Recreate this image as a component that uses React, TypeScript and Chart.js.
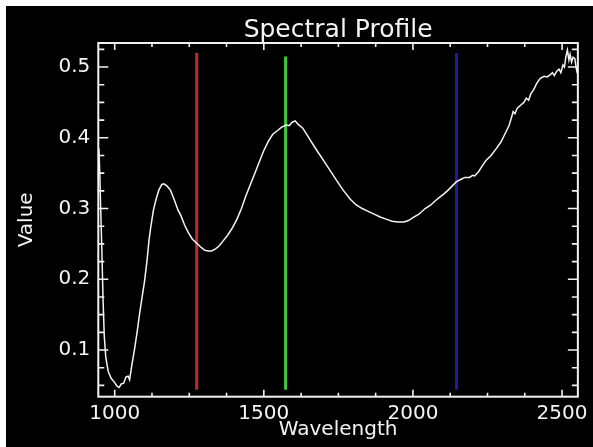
import React, { useEffect, useRef } from "react";
import { Chart, registerables } from "chart.js";

Chart.register(...registerables);

// Spectrum samples (wavelength, value)
const wavelengths = [
  947, 950, 953, 957, 961, 965, 970, 978, 988, 998, 1008, 1015, 1022, 1030, 1038, 1045, 1050, 1058,
  1066, 1075, 1083, 1092, 1100, 1108, 1115, 1121, 1130, 1138, 1148, 1158, 1165, 1175, 1187, 1200,
  1212, 1222, 1235, 1247, 1260, 1275, 1290, 1302, 1314, 1325, 1338, 1350, 1365, 1380, 1395, 1410,
  1425, 1440, 1455, 1470, 1485, 1500, 1515, 1530, 1545, 1560, 1575, 1585, 1595, 1605, 1615, 1630,
  1645, 1660, 1678, 1700, 1722, 1745, 1766, 1790, 1810, 1830, 1850, 1870, 1890, 1910, 1930, 1950,
  1970, 1985, 2000, 2020, 2041, 2060, 2075, 2090, 2105, 2118, 2132, 2146, 2160, 2174, 2190, 2200,
  2207, 2220, 2232, 2245, 2262, 2280, 2295, 2308, 2322, 2330, 2336, 2342, 2350, 2361, 2372, 2380,
  2388, 2395, 2405, 2415, 2427, 2440, 2450, 2460, 2468, 2474, 2482, 2490, 2496, 2503, 2508, 2513,
  2518, 2523, 2527, 2532, 2537, 2543, 2547, 2551,
];
const values = [
  0.385, 0.35, 0.3, 0.24, 0.17, 0.12, 0.09, 0.07, 0.06, 0.055, 0.049, 0.047, 0.052, 0.053, 0.062, 0.063, 0.058, 0.08,
  0.1, 0.125, 0.15, 0.175, 0.197, 0.225, 0.255, 0.274, 0.298, 0.312, 0.326, 0.334, 0.335, 0.332, 0.326, 0.312,
  0.298, 0.29, 0.276, 0.266, 0.257, 0.251, 0.245, 0.241, 0.24, 0.24, 0.243, 0.247, 0.255, 0.263, 0.273, 0.285,
  0.3, 0.318, 0.334, 0.35, 0.366, 0.382, 0.395, 0.405, 0.41, 0.415, 0.418, 0.417, 0.422, 0.424, 0.419, 0.414,
  0.404, 0.394, 0.382, 0.368, 0.354, 0.339, 0.326, 0.313, 0.305, 0.3, 0.296, 0.292, 0.288, 0.285, 0.282, 0.281,
  0.281, 0.283, 0.287, 0.292, 0.3, 0.305, 0.311, 0.316, 0.321, 0.326, 0.332, 0.338, 0.341, 0.344, 0.344, 0.347,
  0.346, 0.352, 0.36, 0.368, 0.375, 0.385, 0.394, 0.405, 0.417, 0.428, 0.437, 0.434, 0.442, 0.446, 0.45, 0.456,
  0.453, 0.462, 0.468, 0.477, 0.484, 0.487, 0.486, 0.489, 0.492, 0.488, 0.494, 0.497, 0.492, 0.503, 0.5, 0.515,
  0.524, 0.51, 0.518, 0.507, 0.514, 0.512, 0.5, 0.491,
];

// Band marker lines
const markerWavelengths = [1275, 1573, 2146];
const markerColors = ["#c02a35", "#3ec83e", "#1c1ca8"];
const markerTops = [0.52, 0.515, 0.52];
const markerBottom = 0.044;

// Axes
const xRange = [945, 2553];
const yRange = [0.034, 0.534];
const xMajorTicks = [1000, 1500, 2000, 2500];
const xMinorTicks = [1125, 1250, 1375, 1625, 1750, 1875, 2125, 2250, 2375];
const yMajorTicks = [0.1, 0.2, 0.3, 0.4, 0.5];
const yMinorTicks = [0.05, 0.075, 0.125, 0.15, 0.175, 0.225, 0.25, 0.275, 0.325, 0.35, 0.375, 0.425, 0.45, 0.475, 0.525];

const titleText = "Spectral Profile";
const xTitle = "Wavelength";
const yTitle = "Value";

const FONT = "'DejaVu Sans', sans-serif";

const boxPlugin = {
  id: "idlBox",
  afterDatasetsDraw(chart: any) {
    const { ctx, chartArea, scales } = chart;
    const { left, right, top, bottom } = chartArea;
    const xs = scales.x;
    const ys = scales.y;
    ctx.save();
    ctx.strokeStyle = "#f2f2f2";
    ctx.lineWidth = 2;
    ctx.strokeRect(left, top, right - left, bottom - top);
    ctx.lineWidth = 1.6;
    const vline = (px: number, len: number) => {
      ctx.beginPath();
      ctx.moveTo(px, bottom);
      ctx.lineTo(px, bottom - len);
      ctx.moveTo(px, top);
      ctx.lineTo(px, top + len);
      ctx.stroke();
    };
    const hline = (py: number, len: number) => {
      ctx.beginPath();
      ctx.moveTo(left, py);
      ctx.lineTo(left + len, py);
      ctx.moveTo(right, py);
      ctx.lineTo(right - len, py);
      ctx.stroke();
    };
    xMajorTicks.forEach((v) => vline(xs.getPixelForValue(v), 7));
    xMinorTicks.forEach((v) => vline(xs.getPixelForValue(v), 4));
    yMajorTicks.forEach((v) => hline(ys.getPixelForValue(v), 10));
    yMinorTicks.forEach((v) => hline(ys.getPixelForValue(v), 6));
    ctx.restore();
  },
};

export default function App() {
  const ref = useRef<HTMLCanvasElement | null>(null);

  useEffect(() => {
    document.body.style.margin = "0";
    const canvas = ref.current;
    if (!canvas) return;
    const datasets: any[] = [
      {
        data: wavelengths.map((w, i) => ({ x: w, y: values[i] })),
        borderColor: "#f4f4f4",
        borderWidth: 1.5,
        pointRadius: 0,
        tension: 0,
        order: 0,
      },
      ...markerWavelengths.map((w, i) => ({
        data: [
          { x: w, y: markerBottom },
          { x: w, y: markerTops[i] },
        ],
        borderColor: markerColors[i],
        borderWidth: 3,
        pointRadius: 0,
        order: 1,
      })),
    ];
    const chart = new Chart(canvas, {
      type: "line",
      data: { datasets },
      options: {
        animation: false,
        responsive: false,
        devicePixelRatio: 1,
        layout: { padding: { left: 0, right: 8, top: 0, bottom: 0 } },
        plugins: {
          legend: { display: false },
          tooltip: { enabled: false },
          title: {
            display: true,
            text: titleText,
            color: "#f4f4f4",
            fullSize: false,
            font: { family: FONT, size: 25, weight: "normal", lineHeight: 1 },
            padding: { top: 11.5, bottom: 0.5 },
          },
        },
        scales: {
          x: {
            type: "linear",
            min: xRange[0],
            max: xRange[1],
            grid: { display: false, drawTicks: false },
            border: { display: false },
            afterBuildTicks: (s: any) => {
              s.ticks = xMajorTicks.map((v) => ({ value: v }));
            },
            afterFit: (s: any) => {
              s.height = 50.3;
            },
            ticks: {
              color: "#f4f4f4",
              font: { family: FONT, size: 20 },
              padding: 5,
              maxRotation: 0,
              autoSkip: false,
              callback: (v: any) => String(v),
            },
            title: {
              display: true,
              text: xTitle,
              color: "#f4f4f4",
              font: { family: FONT, size: 20, lineHeight: 1.2 },
              padding: { top: 0, bottom: 5 },
            },
          },
          y: {
            type: "linear",
            min: yRange[0],
            max: yRange[1],
            grid: { display: false, drawTicks: false },
            border: { display: false },
            afterBuildTicks: (s: any) => {
              s.ticks = yMajorTicks.map((v) => ({ value: v }));
            },
            afterFit: (s: any) => {
              s.width = 92.3;
            },
            ticks: {
              color: "#f4f4f4",
              font: { family: FONT, size: 20 },
              padding: 8,
              callback: (v: any) => String(Math.round(v * 10) / 10),
            },
            title: {
              display: true,
              text: yTitle,
              color: "#f4f4f4",
              font: { family: FONT, size: 20, lineHeight: 1.2 },
              padding: { top: 8.5, bottom: 0 },
            },
          },
        },
      },
      plugins: [boxPlugin],
    } as any);
    return () => chart.destroy();
  }, []);

  return (
    <div style={{ position: "relative", width: 593, height: 447, background: "#fff", overflow: "hidden" }}>
      <canvas
        ref={ref}
        width={587}
        height={441}
        style={{ position: "absolute", left: 6, top: 6, width: 587, height: 441, background: "#000" }}
      />
    </div>
  );
}
